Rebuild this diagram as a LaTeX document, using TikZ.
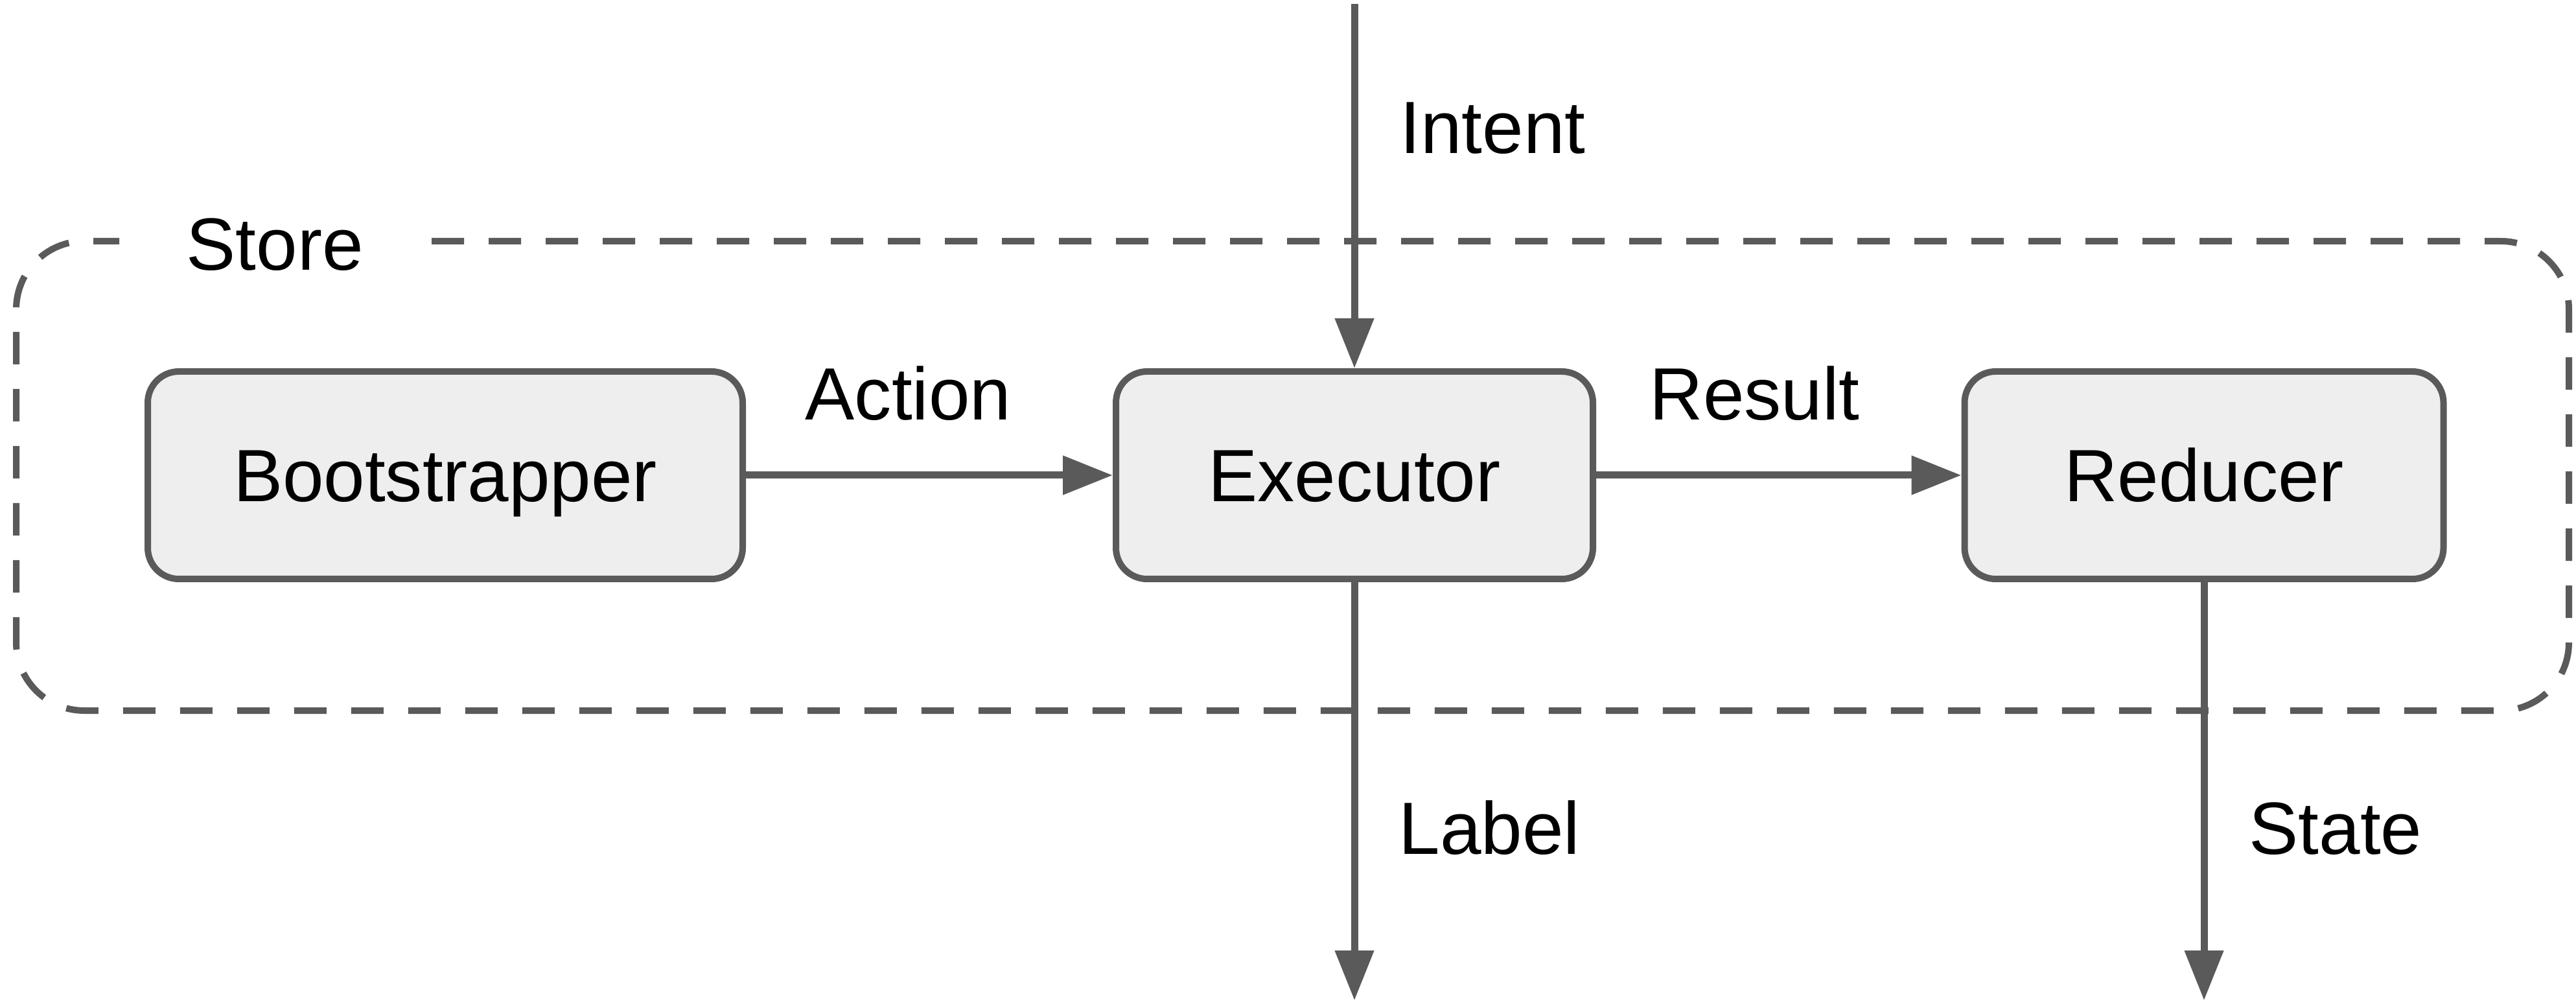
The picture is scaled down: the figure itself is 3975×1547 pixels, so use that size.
\documentclass[tikz,border=0pt]{standalone}
\usepackage{fontspec}
\setmainfont{Liberation Sans}
\usetikzlibrary{arrows.meta}
\definecolor{linegray}{HTML}{5A5A5A}
\definecolor{boxfill}{HTML}{EEEEEE}
\tikzset{
  stagebox/.style={draw=linegray, fill=boxfill, line width=1mm,
    rounded corners=4.8mm, minimum height=32mm, inner sep=0pt,
    text height=23.3pt, text depth=0pt,
    font=\fontsize{32.5}{39}\selectfont},
  flow/.style={draw=linegray, line width=1.1mm,
    -{Triangle[length=7.7mm,width=5.8mm]}},
  tag/.style={anchor=base west, inner sep=0pt,
    font=\fontsize{32.5}{39}\selectfont},
  boundary/.style={draw=linegray, line width=1mm,
    dash pattern=on 5mm off 3.8mm, rounded corners=10.5mm}
}
\begin{document}
\begin{tikzpicture}[x=0.1mm, y=-0.1mm]
  \useasboundingbox (0,0) rectangle (3975,1547);

  % processing stages
  \node[stagebox, minimum width=91.8mm] (boot) at (687,733) {Bootstrapper};
  \node[stagebox, minimum width=73.6mm] (exec) at (2090,733) {Executor};
  \node[stagebox, minimum width=73.9mm] (red)  at (3401,733) {Reducer};

  % store boundary with its title
  \node[tag] (store) at (287,417) {Store};
  \coordinate (gapL) at (184,372);
  \coordinate (gapR) at (666,372);
  \draw[boundary] (gapR) -- (3964,372) -- (3964,1096) -- (25,1096)
    -- (25,372) -- (gapL);

  % external ends
  \coordinate (intentIn) at (2090,6);
  \coordinate (labelOut) at (2090,1543);
  \coordinate (stateOut) at (3401,1543);

  % connectors
  \draw[flow] (intentIn) -- (exec.north);
  \draw[flow] (boot.east) -- (exec.west);
  \draw[flow] (exec.east) -- (red.west);
  \draw[flow] (exec.south) -- (labelOut);
  \draw[flow] (red.south) -- (stateOut);

  % connector labels
  \node[tag] (tIntent) at (2160,237)  {Intent};
  \node[tag] (tAction) at (1242,648)  {Action};
  \node[tag] (tResult) at (2545,648)  {Result};
  \node[tag] (tLabel)  at (2158,1317) {Label};
  \node[tag] (tState)  at (3470,1317) {State};
\end{tikzpicture}
\end{document}
